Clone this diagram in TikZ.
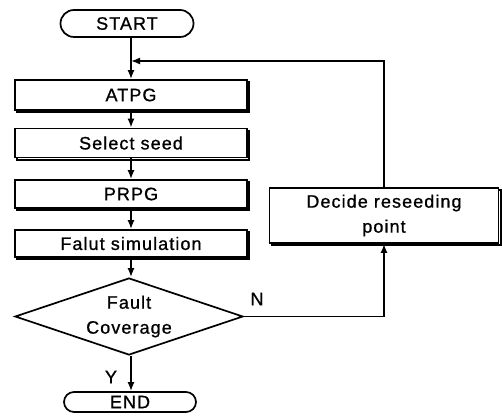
\documentclass[tikz,border=0pt]{standalone}
\usepackage{fontspec}
\setmainfont{Liberation Sans}[LetterSpace=6, FakeBold=0.9]
\usepackage{tikz}
\usetikzlibrary{calc, shapes.geometric, shapes.misc, shadows, positioning, arrows.meta}

\begin{document}
\begin{tikzpicture}[>={Latex[length=9pt,width=7pt]}, x=1pt, y=-1pt, line width=1.7pt,
    txt/.style={font=\fontsize{18}{25}\selectfont},
    term/.style={txt, rounded rectangle, draw, inner sep=0pt},
    proc/.style={txt, rectangle, draw, fill=white, inner sep=0pt,
        copy shadow={shadow xshift=2.2pt, shadow yshift=-2.2pt}},
    decision/.style={txt, diamond, draw, inner sep=0pt, aspect=2.96,
        align=center}]
    % 1. Khung
    \useasboundingbox (0,0) rectangle (502,419);

    % 2. Các khối
    \node[term, minimum width=133, minimum height=27] (start) at (127,23.5) {START};
    \node[proc, minimum width=232, minimum height=30] (atpg) at (131,95) {ATPG};
    \node[proc, minimum width=232, minimum height=29] (seed) at (131,143) {Select seed};
    \node[proc, minimum width=232, minimum height=28] (prpg) at (131,194) {PRPG};
    \node[proc, minimum width=232, minimum height=27] (fsim) at (131,243.5) {Falut simulation};
    \node[decision, minimum width=228, minimum height=77] (fc) at (129,316.5) {Fault\\Coverage};
    \node[term, minimum width=132, minimum height=20] (stop) at (130,402) {END};
    \node[proc, align=center, minimum width=229, minimum height=55] (dec) at (384,215.5)
        {Decide reseeding\\point};

    % 3. Nhãn
    \node[txt] (yes) at (111,377) {Y};
    \node[txt] (no) at (257,299) {N};

    % 4. Mũi tên
    \coordinate (join) at (131,61);
    \draw (start.south -| join) -- (join);
    \draw[->] (join) -- (atpg.north -| join);
    \draw[->] (atpg.south -| join) -- (seed.north -| join);
    \draw[->] (seed.south -| join) -- (prpg.north -| join);
    \draw[->] (prpg.south -| join) -- (fsim.north -| join);
    \draw[->] (fsim.south -| join) -- (fc.north -| join);
    \draw[->] (fc.south -| join) -- (stop.north -| join);
    \draw[->] (fc.east) -| (dec.south);
    \draw[->] (dec.north) |- (join);
\end{tikzpicture}
\end{document}
